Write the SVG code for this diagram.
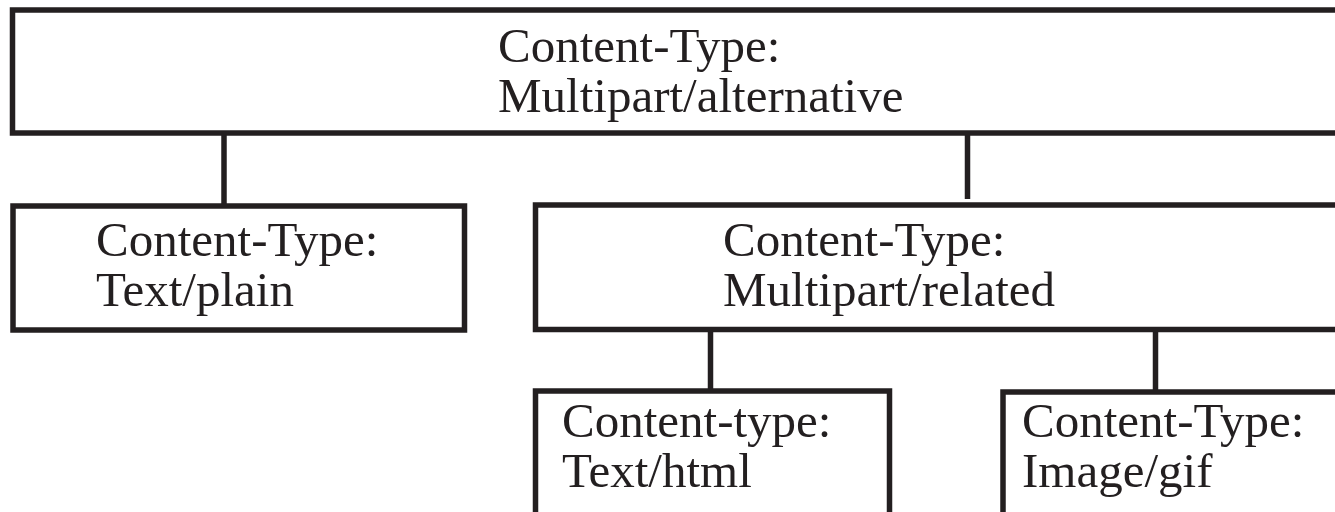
<svg xmlns="http://www.w3.org/2000/svg" width="1335" height="512" viewBox="0 0 1335 512">
<style>
.box{fill:#ffffff;stroke:#231f20;stroke-width:5.5}
.ln{stroke:#231f20;stroke-width:5.5;fill:none}
.t{font-family:"Liberation Serif","Times New Roman",serif;font-size:49px;fill:#231f20}
</style>
<rect width="1335" height="512" fill="#ffffff"/>
<g id="connectors">
<line class="ln" x1="224" y1="133" x2="224" y2="206"/>
<line class="ln" x1="967.5" y1="133" x2="967.5" y2="199"/>
<line class="ln" x1="710.5" y1="330" x2="710.5" y2="391"/>
<line class="ln" x1="1155.5" y1="330" x2="1155.5" y2="392"/>
</g>
<g id="node-alternative">
<rect class="box" x="12.5" y="10" width="1340" height="123"/>
<text class="t" x="498" y="62">Content-Type:</text>
<text class="t" x="498" y="112">Multipart/alternative</text>
</g>
<g id="node-plain">
<rect class="box" x="13" y="206" width="451.5" height="124"/>
<text class="t" x="96" y="256">Content-Type:</text>
<text class="t" x="96" y="306">Text/plain</text>
</g>
<g id="node-related">
<rect class="box" x="535.5" y="205" width="820" height="124.5"/>
<text class="t" x="723" y="256">Content-Type:</text>
<text class="t" x="723" y="306">Multipart/related</text>
</g>
<g id="node-html">
<rect class="box" x="535.5" y="391" width="354" height="140"/>
<text class="t" x="562" y="437">Content-type:</text>
<text class="t" x="562" y="487">Text/html</text>
</g>
<g id="node-gif">
<rect class="box" x="1003" y="392" width="360" height="140"/>
<text class="t" x="1022" y="437">Content-Type:</text>
<text class="t" x="1022" y="487">Image/gif</text>
</g>
</svg>
